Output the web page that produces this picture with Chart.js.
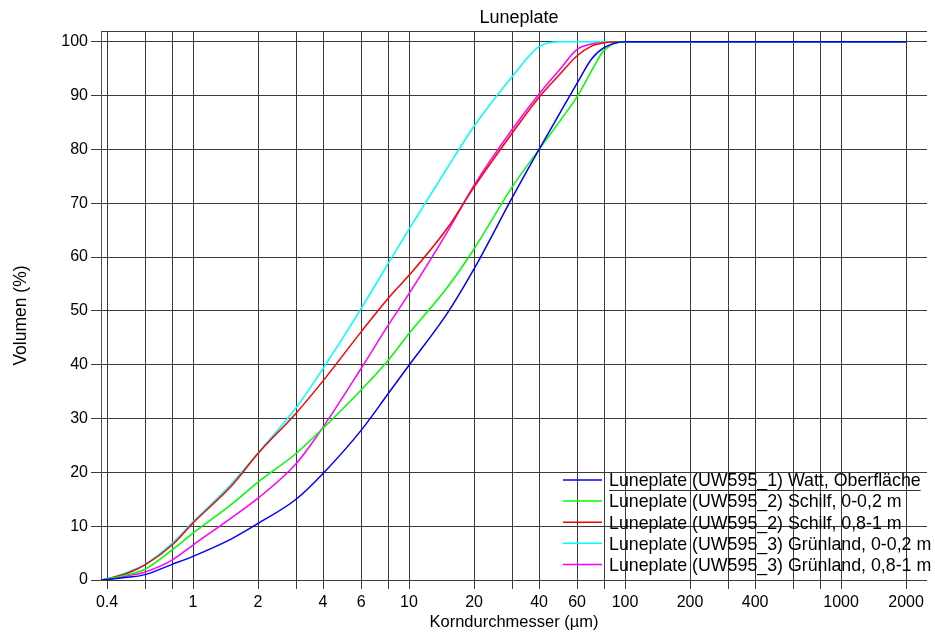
<!DOCTYPE html>
<html><head><meta charset="utf-8">
<script src="https://cdn.jsdelivr.net/npm/chart.js@4"></script>
<style>html,body{margin:0;padding:0;background:#fff;}</style>
</head><body>
<canvas id="c" width="935" height="634"></canvas>
<script>
// grain size (µm) at which the curves are read
const sizes = [0.375, 0.4, 0.5, 0.6, 0.8, 1, 1.5, 2, 3, 4, 6, 8, 10, 15, 20, 30, 40, 50, 60, 70, 80, 100, 2000];
// cumulative volume (%)
const wattOberflaeche   = [0, 0.1, 0.5, 1.0, 2.9, 4.4, 7.6, 10.5, 15.0, 19.8, 27.8, 34.6, 39.9, 49.5, 57.8, 71.0, 80.0, 86.8, 92.3, 96.8, 98.9, 100, 100];
const schilf0_02        = [0, 0.2, 1.0, 2.0, 5.6, 8.7, 14.0, 18.2, 23.5, 28.2, 35.3, 40.8, 45.8, 54.3, 61.5, 73.0, 80.0, 85.3, 89.8, 94.6, 98.4, 100, 100];
const schilf08_1        = [0, 0.2, 1.3, 2.8, 6.5, 10.6, 17.4, 23.5, 31.0, 37.0, 46.1, 52.3, 56.6, 65.3, 73.0, 83.0, 89.7, 94.0, 97.4, 99.2, 99.8, 100, 100];
const gruenland0_02     = [0, 0.2, 1.5, 2.9, 6.8, 10.8, 17.8, 23.6, 32.0, 39.3, 50.4, 58.8, 65.2, 76.5, 84.3, 93.5, 99.1, 100, 100, 100, 100, 100, 100];
const gruenland08_1     = [0, 0.1, 0.8, 1.5, 3.7, 6.5, 11.5, 15.2, 21.6, 28.4, 39.3, 47.3, 53.2, 64.6, 73.3, 83.7, 90.3, 94.9, 98.6, 99.6, 100, 100, 100];

const seriesLabels = [
  'Luneplate (UW595_1) Watt, Oberfläche',
  'Luneplate (UW595_2) Schilf, 0-0,2 m',
  'Luneplate (UW595_2) Schilf, 0,8-1 m',
  'Luneplate (UW595_3) Grünland, 0-0,2 m',
  'Luneplate (UW595_3) Grünland, 0,8-1 m'
];
const seriesValues = [wattOberflaeche, schilf0_02, schilf08_1, gruenland0_02, gruenland08_1];
const seriesColors = ['#0000ff', '#00ff00', '#ff0000', '#00ffff', '#ff00ff'];

const xLabelledTicks = [0.4, 1, 2, 4, 6, 10, 20, 40, 60, 100, 200, 400, 1000, 2000];
const xGridOnlyTicks = [0.6, 0.8, 3, 8, 30, 80, 300, 600, 800];
const yTicks = [0, 10, 20, 30, 40, 50, 60, 70, 80, 90, 100];

const chartTitle = 'Luneplate';
const xTitle = 'Korndurchmesser (µm)';
const yTitle = 'Volumen (%)';

const FONT = '"Liberation Sans", Arial, Helvetica, sans-serif';
Chart.defaults.font.family = FONT;
Chart.defaults.font.size = 16;
Chart.defaults.color = '#000';

const GRID = '#3a3a3a';

const annotations = {
  id: 'annotations',
  afterDraw(chart) {
    const {ctx, chartArea: a} = chart;
    ctx.save();
    ctx.fillStyle = '#000';
    // chart title, centred over the plot area
    ctx.font = '18px ' + FONT;
    ctx.textAlign = 'center';
    ctx.textBaseline = 'alphabetic';
    ctx.fillText(chartTitle, (a.left + a.right) / 2 + 5, a.top - 7.7);
    // y axis title
    ctx.save();
    ctx.font = '17.5px ' + FONT;
    ctx.translate(25.5, (a.top + a.bottom) / 2 + 10);
    ctx.rotate(-Math.PI / 2);
    ctx.fillText(yTitle, 0, 0);
    ctx.restore();
    // legend inside the plot area
    ctx.font = '17.8px ' + FONT;
    ctx.textAlign = 'left';
    const x0 = a.right - 364, y0 = a.bottom - 100, dy = 21.1;
    chart.data.datasets.forEach((d, i) => {
      const y = y0 + i * dy;
      ctx.strokeStyle = d.borderColor;
      ctx.lineWidth = 1.5;
      ctx.beginPath(); ctx.moveTo(x0, y); ctx.lineTo(x0 + 39, y); ctx.stroke();
      ctx.fillStyle = '#000';
      ctx.fillText(d.label, x0 + 46, y + 6.3);
      if (i === 0) {
        const w = ctx.measureText(d.label).width;
        ctx.strokeStyle = '#333'; ctx.lineWidth = 1;
        ctx.beginPath(); ctx.moveTo(x0 + 46, y + 10.5); ctx.lineTo(x0 + 46 + w, y + 10.5); ctx.stroke();
      }
    });
    ctx.restore();
  }
};

new Chart(document.getElementById('c'), {
  type: 'line',
  data: {
    datasets: seriesValues.map((vals, i) => ({
      label: seriesLabels[i],
      data: sizes.map((s, j) => ({x: s, y: vals[j]})),
      borderColor: seriesColors[i],
      backgroundColor: seriesColors[i],
      borderWidth: 1.5,
      pointRadius: 0,
      fill: false,
      cubicInterpolationMode: 'monotone'
    }))
  },
  options: {
    responsive: false,
    animation: false,
    devicePixelRatio: 1,
    layout: {padding: {left: 0, right: 8, top: 31, bottom: 0}},
    plugins: {
      legend: {display: false},
      tooltip: {enabled: false},
      title: {display: false}
    },
    scales: {
      x: {
        type: 'logarithmic',
        min: 0.375, max: 2500,
        afterBuildTicks: s => { s.ticks = xLabelledTicks.concat(xGridOnlyTicks).sort((a,b)=>a-b).map(v => ({value: v})); },
        afterFit: s => { s.height = 54; },
        ticks: {autoSkip: false, maxRotation: 0, padding: 4, color: '#000',
          callback: v => xLabelledTicks.includes(v) ? String(v) : ''},
        grid: {color: GRID, tickColor: GRID, tickLength: 9, lineWidth: 1},
        border: {display: false},
        title: {display: true, text: xTitle, color: '#000', font: {size: 16.5}, padding: {top: 0, bottom: 2}}
      },
      y: {
        min: 0, max: 102,
        afterBuildTicks: s => { s.ticks = yTicks.concat([102]).map(v => ({value: v})); },
        afterFit: s => { s.width = 101; },
        ticks: {autoSkip: false, padding: 3, color: '#000', callback: v => v > 100 ? '' : String(v)},
        grid: {color: GRID, tickColor: c => (c.tick && c.tick.value > 100) ? 'rgba(0,0,0,0)' : GRID, tickLength: 10, lineWidth: 1},
        border: {display: true, color: '#555', width: 1},
        title: {display: false}
      }
    }
  },
  plugins: [annotations]
});
</script>
</body></html>
